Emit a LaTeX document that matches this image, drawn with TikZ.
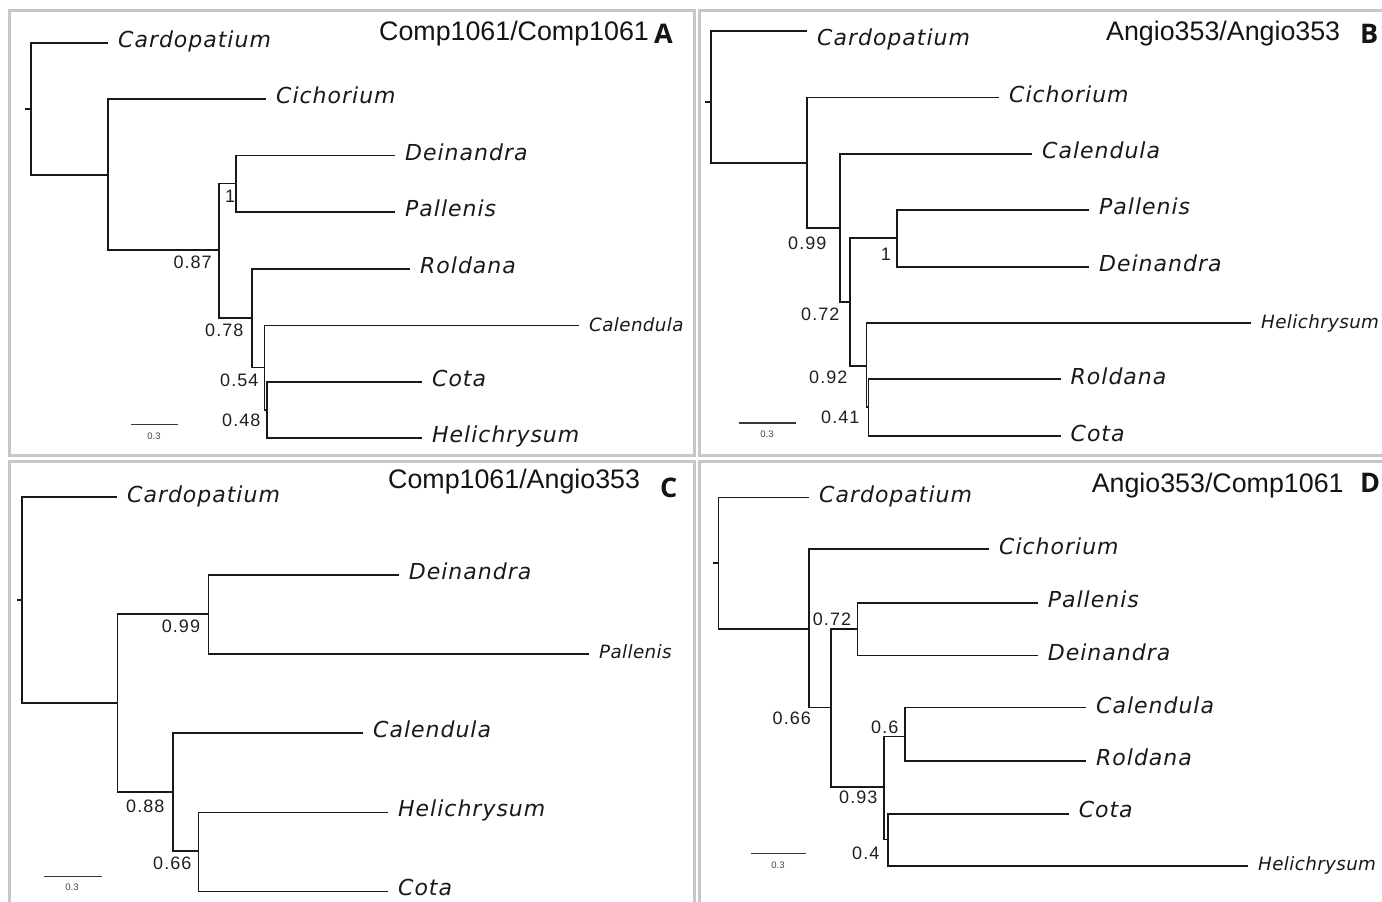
\documentclass[tikz,border=0pt]{standalone}
\usepackage{fontspec}
\newfontfamily\taxfont{DejaVu Sans Oblique}[LetterSpace=4.5]
\newfontfamily\taxsmallfont{DejaVu Sans Oblique}[LetterSpace=2]
\newfontfamily\numfont{Liberation Sans}[LetterSpace=6]
\newfontfamily\titlefont{Liberation Sans}
\newfontfamily\letterfont{Open Sans Bold}
\newfontfamily\barfont{Liberation Sans}
\tikzset{
  branch/.style={draw=black!90, line width=1.4pt},
  panelframe/.style={draw=black!22, line width=3pt},
  taxon/.style={font=\taxfont\fontsize{22}{26}\selectfont, text=black!90, inner sep=0pt, anchor=base west},
  taxonsm/.style={font=\taxsmallfont\fontsize{18.3}{22}\selectfont, text=black!90, inner sep=0pt, anchor=base west},
  supp/.style={font=\numfont\fontsize{18}{21}\selectfont, text=black!88, inner sep=0pt, anchor=base west},
  ptitle/.style={font=\titlefont\fontsize{26.8}{30}\selectfont, text=black!92, inner sep=0pt, anchor=base west},
  pletter/.style={font=\letterfont\fontsize{27}{30}\selectfont, text=black!92, inner sep=0pt, anchor=base west},
  sbar/.style={draw=black!78, line width=1.3pt},
  sbarlabel/.style={font=\barfont\fontsize{9.5}{11}\selectfont, text=black!72, inner sep=0pt},
}
% leaf: name, x, y, style, text, baseline offset
\newcommand\mkleaf[6]{%
  \coordinate (#1) at (#2,#3);
  \path (#1) ++(10,#6) node[#4] (#1t) {#5};}
\begin{document}
\begin{tikzpicture}[x=1pt,y=-1pt]
\useasboundingbox (0,0) rectangle (1382,902);
\fill[white] (0,0) rectangle (1382,902);
% panel frames
\draw[panelframe] (9.5,10.5) rectangle (694,455);
\draw[panelframe] (699.5,10.5) rectangle (1395,455);
\draw[panelframe] (9.5,461.5) rectangle (694,915);
\draw[panelframe] (699.5,461.5) rectangle (1395,915);

% ================= Panel A =================
\node[ptitle] (tA) at (379,40.7) {Comp1061/Comp1061};
\node[pletter] (lA) at (654,43.5) {A};
\coordinate (aR) at (31,109);
\coordinate (aRt) at (25,109);
\coordinate (aN1) at (108,175);
\coordinate (aN2) at (219,250);
\coordinate (aPD) at (236,183.7);
\coordinate (aN3) at (252,318);
\coordinate (aN4) at (264.5,367.7);
\coordinate (aN5) at (267,410);
\mkleaf{aCar}{108}{43}{taxon}{Cardopatium}{4.5}
\mkleaf{aCic}{266}{99}{taxon}{Cichorium}{4.5}
\mkleaf{aDei}{395}{155.7}{taxon}{Deinandra}{4.5}
\mkleaf{aPal}{395}{212}{taxon}{Pallenis}{4.5}
\mkleaf{aRol}{410}{269}{taxon}{Roldana}{4.5}
\mkleaf{aCal}{579}{325.5}{taxonsm}{Calendula}{6}
\mkleaf{aCot}{422}{382}{taxon}{Cota}{4.5}
\mkleaf{aHel}{422}{438}{taxon}{Helichrysum}{4.5}
\draw[branch] (aRt) -- (aR);
\draw[branch] (aR) |- (aCar);
\draw[branch] (aR) |- (aN1);
\draw[branch] (aN1) |- (aCic);
\draw[branch] (aN1) |- (aN2);
\draw[branch] (aN2) |- (aPD);
\draw[branch] (aN2) |- (aN3);
\draw[branch] (aPD) |- (aDei);
\draw[branch] (aPD) |- (aPal);
\draw[branch] (aN3) |- (aRol);
\draw[branch] (aN3) |- (aN4);
\draw[branch] (aN4) |- (aCal);
\draw[branch] (aN4) |- (aN5);
\draw[branch] (aN5) |- (aCot);
\draw[branch] (aN5) |- (aHel);
\node[supp] (aS1) at (173.3,268.8) {0.87};
\node[supp] (aS2) at (225,202.8) {1};
\node[supp] (aS3) at (205,336.5) {0.78};
\node[supp] (aS4) at (220,386.5) {0.54};
\node[supp] (aS5) at (222,426.5) {0.48};
\coordinate (aB1) at (130.7,424.3);
\coordinate (aB2) at (177.7,424.3);
\draw[sbar] (aB1) -- (aB2);
\node[sbarlabel] (aBl) at (154,435.8) {0.3};

% ================= Panel B =================
\node[ptitle] (tB) at (1106,40.7) {Angio353/Angio353};
\node[pletter] (lB) at (1360,43.5) {B};
\coordinate (bR) at (711,102);
\coordinate (bRt) at (705,102);
\coordinate (bN1) at (807,163);
\coordinate (bN2) at (840,228);
\coordinate (bN3) at (850,302);
\coordinate (bPD) at (897,238);
\coordinate (bN5) at (866.5,366);
\coordinate (bN6) at (868.5,407);
\mkleaf{bCar}{807}{31}{taxon}{Cardopatium}{14}
\mkleaf{bCic}{999}{97.7}{taxon}{Cichorium}{4.5}
\mkleaf{bCal}{1032}{154}{taxon}{Calendula}{4.5}
\mkleaf{bPal}{1089}{210}{taxon}{Pallenis}{4.5}
\mkleaf{bDei}{1089}{267}{taxon}{Deinandra}{4.5}
\mkleaf{bHel}{1251}{323}{taxonsm}{Helichrysum}{5.5}
\mkleaf{bRol}{1060.5}{379}{taxon}{Roldana}{5.5}
\mkleaf{bCot}{1060.5}{436}{taxon}{Cota}{5}
\draw[branch] (bRt) -- (bR);
\draw[branch] (bR) |- (bCar);
\draw[branch] (bR) |- (bN1);
\draw[branch] (bN1) |- (bCic);
\draw[branch] (bN1) |- (bN2);
\draw[branch] (bN2) |- (bCal);
\draw[branch] (bN2) |- (bN3);
\draw[branch] (bN3) |- (bPD);
\draw[branch] (bN3) |- (bN5);
\draw[branch] (bPD) |- (bPal);
\draw[branch] (bPD) |- (bDei);
\draw[branch] (bN5) |- (bHel);
\draw[branch] (bN5) |- (bN6);
\draw[branch] (bN6) |- (bRol);
\draw[branch] (bN6) |- (bCot);
\node[supp] (bS1) at (788,249.5) {0.99};
\node[supp] (bS2) at (880.6,260.5) {1};
\node[supp] (bS3) at (801,320.5) {0.72};
\node[supp] (bS4) at (809,383.5) {0.92};
\node[supp] (bS5) at (821,423.5) {0.41};
\coordinate (bB1) at (738.5,423);
\coordinate (bB2) at (796,423);
\draw[sbar] (bB1) -- (bB2);
\node[sbarlabel] (bBl) at (767,434.5) {0.3};

% ================= Panel C =================
\node[ptitle] (tC) at (388,488) {Comp1061/Angio353};
\node[pletter] (lC) at (660,497) {C};
\coordinate (cR) at (22,600);
\coordinate (cRt) at (17,600);
\coordinate (cN1) at (117.4,703);
\coordinate (cN2) at (208.5,614);
\coordinate (cN3) at (173,792);
\coordinate (cN4) at (198.7,851);
\mkleaf{cCar}{117}{497}{taxon}{Cardopatium}{5}
\mkleaf{cDei}{398.7}{575}{taxon}{Deinandra}{4.7}
\mkleaf{cPal}{589}{654}{taxonsm}{Pallenis}{4.7}
\mkleaf{cCal}{363}{733}{taxon}{Calendula}{4}
\mkleaf{cHel}{388}{812.7}{taxon}{Helichrysum}{4}
\mkleaf{cCot}{388}{891.7}{taxon}{Cota}{4}
\draw[branch] (cRt) -- (cR);
\draw[branch] (cR) |- (cCar);
\draw[branch] (cR) |- (cN1);
\draw[branch] (cN1) |- (cN2);
\draw[branch] (cN1) |- (cN3);
\draw[branch] (cN2) |- (cDei);
\draw[branch] (cN2) |- (cPal);
\draw[branch] (cN3) |- (cCal);
\draw[branch] (cN3) |- (cN4);
\draw[branch] (cN4) |- (cHel);
\draw[branch] (cN4) |- (cCot);
\node[supp] (cS1) at (161.6,632) {0.99};
\node[supp] (cS2) at (126,812.5) {0.88};
\node[supp] (cS3) at (153,869.5) {0.66};
\coordinate (cB1) at (43.75,876.7);
\coordinate (cB2) at (101.8,876.7);
\draw[sbar] (cB1) -- (cB2);
\node[sbarlabel] (cBl) at (72,887.5) {0.3};

% ================= Panel D =================
\node[ptitle] (tD) at (1091.6,492) {Angio353/Comp1061};
\node[pletter] (lD) at (1360,492) {D};
\coordinate (dR) at (718.7,563);
\coordinate (dRt) at (713,563);
\coordinate (dN1) at (809,629);
\coordinate (dN2) at (831,707.7);
\coordinate (dPD) at (857.7,629);
\coordinate (dN4) at (884,787);
\coordinate (dN5) at (905,736.7);
\coordinate (dN6) at (888,839.3);
\mkleaf{dCar}{809}{497.7}{taxon}{Cardopatium}{5}
\mkleaf{dCic}{989}{549}{taxon}{Cichorium}{5.5}
\mkleaf{dPal}{1037.7}{603}{taxon}{Pallenis}{4}
\mkleaf{dDei}{1037.7}{655.7}{taxon}{Deinandra}{4.3}
\mkleaf{dCal}{1086}{707.7}{taxon}{Calendula}{5.5}
\mkleaf{dRol}{1086}{761}{taxon}{Roldana}{4}
\mkleaf{dCot}{1068.6}{814}{taxon}{Cota}{3.5}
\mkleaf{dHel}{1248}{866}{taxonsm}{Helichrysum}{4.7}
\draw[branch] (dRt) -- (dR);
\draw[branch] (dR) |- (dCar);
\draw[branch] (dR) |- (dN1);
\draw[branch] (dN1) |- (dCic);
\draw[branch] (dN1) |- (dN2);
\draw[branch] (dN2) |- (dPD);
\draw[branch] (dN2) |- (dN4);
\draw[branch] (dPD) |- (dPal);
\draw[branch] (dPD) |- (dDei);
\draw[branch] (dN4) |- (dN5);
\draw[branch] (dN4) |- (dN6);
\draw[branch] (dN5) |- (dCal);
\draw[branch] (dN5) |- (dRol);
\draw[branch] (dN6) |- (dCot);
\draw[branch] (dN6) |- (dHel);
\node[supp] (dS1) at (812.7,625.5) {0.72};
\node[supp] (dS2) at (772.5,724.5) {0.66};
\node[supp] (dS3) at (871,733) {0.6};
\node[supp] (dS4) at (839,803) {0.93};
\node[supp] (dS5) at (852,859.5) {0.4};
\coordinate (dB1) at (751,853.3);
\coordinate (dB2) at (805.6,853.3);
\draw[sbar] (dB1) -- (dB2);
\node[sbarlabel] (dBl) at (778,865.5) {0.3};
\end{tikzpicture}
\end{document}
